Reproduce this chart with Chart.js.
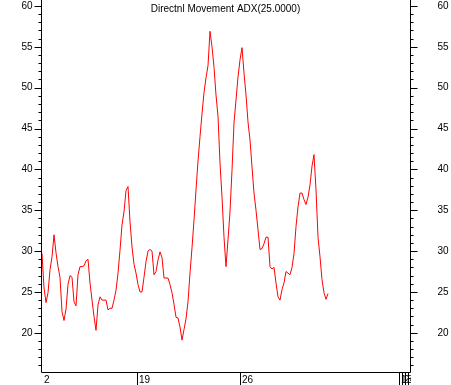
<!DOCTYPE html>
<html>
<head>
<meta charset="utf-8">
<script src="https://cdn.jsdelivr.net/npm/chart.js@4"></script>
<style>
  html, body { margin: 0; padding: 0; background: #fff; }
  canvas { display: block; }
</style>
</head>
<body>
<canvas id="adxChart" width="451" height="385"></canvas>
<script>
// ADX values, one per bar
const adxValues = [
  29.7, 25.5, 23.7, 24.9, 27.7, 29.3, 32.0, 29.8, 28.1, 26.8,
  22.6, 21.5, 22.9, 25.9, 27.0, 26.8, 23.8, 23.3, 27.1, 28.1,
  28.1, 28.2, 28.8, 29.0, 26.1, 24.0, 22.0, 20.3, 23.4, 24.4,
  24.0, 24.0, 24.0, 22.8, 23.0, 23.0, 24.0, 25.2, 27.3, 30.1,
  33.2, 34.8, 37.4, 37.9, 33.6, 30.5, 28.4, 27.3, 25.9, 25.0,
  25.0, 26.8, 28.7, 30.0, 30.2, 30.0, 27.1, 27.5, 28.9, 29.9,
  29.2, 26.7, 26.7, 26.7, 25.9, 24.9, 23.5, 21.9, 21.8, 20.7,
  19.1, 20.4, 21.7, 23.8, 27.3, 30.4, 33.8, 37.5, 41.0, 44.0,
  46.8, 49.4, 51.2, 52.7, 56.9, 55.0, 52.5, 49.1, 46.5, 40.8,
  36.6, 31.7, 28.1, 31.4, 34.8, 39.9, 45.7, 48.5, 51.3, 53.4,
  54.9, 51.8, 49.1, 45.8, 43.6, 40.3, 37.1, 35.0, 32.6, 30.2,
  30.3, 30.9, 31.7, 31.7, 28.1, 27.8, 28.0, 26.1, 24.4, 24.0,
  25.3, 26.1, 27.5, 27.3, 27.1, 28.0, 29.7, 33.0, 35.4, 37.1,
  37.1, 36.3, 35.7, 36.6, 38.1, 40.4, 41.8, 37.5, 31.7, 29.3,
  26.5, 24.9, 24.1, 24.8
];

// x axis ticks (bar index) and their labels
const xTickPos = [0, 47.5, 99, 178.5, 180, 181.5, 183];
const xTickLabels = ['2', '19', '26', '1', '2', '3', '4'];

// y axis ticks
const yMajorTicks = [20, 25, 30, 35, 40, 45, 50, 55, 60];
const yMinorTicks = [16, 17, 18, 19, 20, 21, 22, 23, 24, 25, 26, 27, 28, 29, 30,
  31, 32, 33, 34, 35, 36, 37, 38, 39, 40, 41, 42, 43, 44, 45,
  46, 47, 48, 49, 50, 51, 52, 53, 54, 55, 56, 57, 58, 59, 60];

const chartTitle = 'Directnl Movement ADX(25.0000)';

const FONT = '10px "Liberation Sans", Arial, sans-serif';

// draws the frame, ticks and labels from the chart's own scales
const axesPlugin = {
  id: 'axes',
  afterDraw(chart) {
    const { ctx, chartArea: a, scales: { x, y } } = chart;
    const L = Math.round(a.left) + 0.5;
    const R = Math.round(a.right) + 0.5;
    const B = Math.round(a.bottom) + 0.5;

    ctx.save();
    ctx.strokeStyle = '#000';
    ctx.lineWidth = 1;
    ctx.beginPath();
    ctx.moveTo(L, a.top);
    ctx.lineTo(L, B);
    ctx.lineTo(R, B);
    ctx.lineTo(R, a.top);

    yMinorTicks.forEach(v => {
      const p = Math.round(y.getPixelForValue(v)) + 0.5;
      const len = yMajorTicks.includes(v) ? 7 : 3;
      ctx.moveTo(L - len, p); ctx.lineTo(L, p);
      ctx.moveTo(R, p); ctx.lineTo(R + len, p);
    });

    xTickPos.forEach((v, i) => {
      if (i === 0) return;
      const p = Math.round(x.getPixelForValue(v)) + 0.5;
      ctx.moveTo(p, B); ctx.lineTo(p, chart.height);
    });
    ctx.stroke();

    ctx.fillStyle = '#000';
    ctx.font = FONT;
    ctx.textBaseline = 'middle';
    yMajorTicks.forEach(v => {
      const p = y.getPixelForValue(v);
      ctx.textAlign = 'right';
      ctx.fillText(String(v), L - 9, p);
      ctx.textAlign = 'left';
      ctx.fillText(String(v), R + 27, p);
    });

    // bottom labels stay inside the frame width
    ctx.save();
    ctx.beginPath();
    ctx.rect(0, B, R + 0.5, chart.height - B);
    ctx.clip();
    ctx.textAlign = 'left';
    xTickPos.forEach((v, i) => {
      const p = Math.round(x.getPixelForValue(v));
      ctx.fillText(xTickLabels[i], p + 2, B + 8);
    });
    ctx.restore();

    ctx.textAlign = 'center';
    ctx.fillText(chartTitle, (a.left + a.right) / 2, 9);
    ctx.restore();
  }
};

const ctx = document.getElementById('adxChart').getContext('2d');
new Chart(ctx, {
  type: 'line',
  data: {
    datasets: [{
      data: adxValues.map((v, i) => ({ x: i, y: v })),
      borderColor: '#ff0000',
      borderWidth: 1,
      pointRadius: 0,
      tension: 0,
      fill: false
    }]
  },
  options: {
    responsive: false,
    devicePixelRatio: 1,
    animation: false,
    layout: { padding: { left: 41, right: 41, top: 0, bottom: 13 } },
    scales: {
      x: { type: 'linear', display: false, min: -0.5, max: 184 },
      y: { display: false, min: 15.2, max: 60.73 }
    },
    plugins: {
      legend: { display: false },
      tooltip: { enabled: false }
    }
  },
  plugins: [axesPlugin]
});
</script>
</body>
</html>
